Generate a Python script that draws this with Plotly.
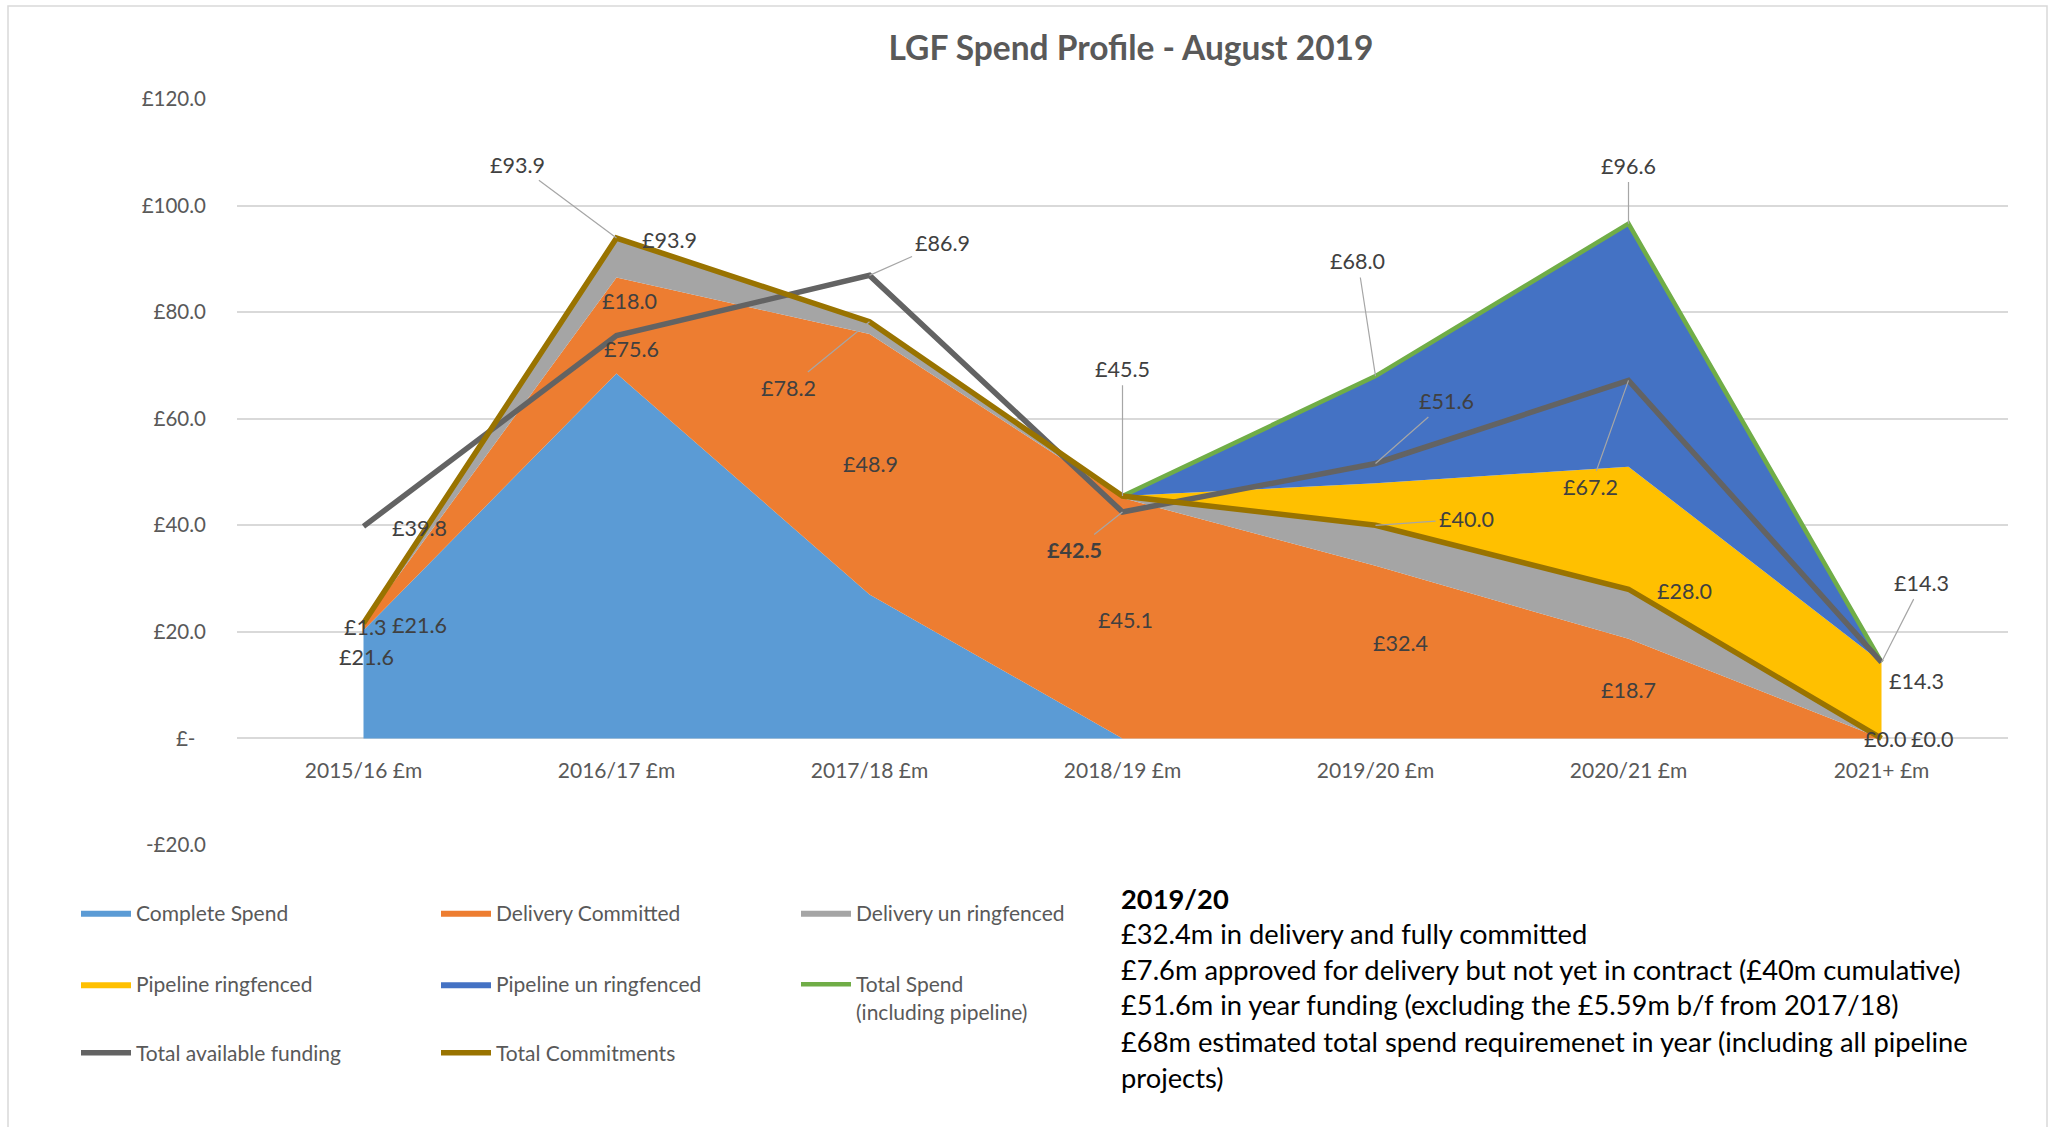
import plotly.graph_objects as go

# ---------------- data ----------------
categories = ["2015/16 £m", "2016/17 £m", "2017/18 £m", "2018/19 £m",
              "2019/20 £m", "2020/21 £m", "2021+ £m"]
complete_spend = [20.3, 68.5, 27.0, 0.0, 0.0, 0.0, 0.0]
delivery_committed = [1.3, 18.0, 48.9, 45.1, 32.4, 18.7, 0.0]
delivery_unringfenced = [0.0, 7.4, 2.3, 0.4, 7.6, 9.3, 0.0]
pipeline_ringfenced = [0.0, 0.0, 0.0, 0.0, 7.9, 23.0, 14.3]
pipeline_unringfenced = [0.0, 0.0, 0.0, 0.0, 20.1, 45.6, 0.0]
total_spend = [None, None, None, 45.5, 68.0, 96.6, 14.3]
total_funding = [39.8, 75.6, 86.9, 42.5, 51.6, 67.2, 14.3]
total_commitments = [21.6, 93.9, 78.2, 45.5, 40.0, 28.0, 0.0]

y_tickvals = [-20, 0, 20, 40, 60, 80, 100, 120]
y_ticktext = ["-£20.0", "£-\u00a0\u00a0", "£20.0", "£40.0", "£60.0", "£80.0", "£100.0", "£120.0"]

title_text = "LGF Spend Profile - August 2019"
note_lines = [
    "<b>2019/20</b>",
    "£32.4m in delivery and fully committed",
    "£7.6m approved for delivery but not yet in contract (£40m cumulative)",
    "£51.6m in year funding (excluding the £5.59m b/f from 2017/18)",
    "£68m estimated total spend requiremenet in year (including all pipeline",
    "projects)",
]

# ---------------- styling ----------------
FONT = "Lato"
LABEL_COLOR = "#404040"
AXIS_COLOR = "#595959"
GRID = "#D9D9D9"

xs = list(range(len(categories)))

fig = go.Figure()

areas = [
    ("Complete Spend", complete_spend, "#5B9BD5", "legend"),
    ("Delivery Committed", delivery_committed, "#ED7D31", "legend"),
    ("Delivery un ringfenced", delivery_unringfenced, "#A5A5A5", "legend"),
    ("Pipeline ringfenced", pipeline_ringfenced, "#FFC000", "legend2"),
    ("Pipeline un ringfenced", pipeline_unringfenced, "#4472C4", "legend2"),
]
for name, vals, col, lg in areas:
    fig.add_trace(go.Scatter(
        x=xs, y=vals, name=name, stackgroup="one", mode="lines",
        line=dict(width=0, color=col), fillcolor=col, legend=lg,
        hoverinfo="x+y+name",
    ))

lines = [
    ("Total Spend<br>(including pipeline)", total_spend, "#70AD47", 4.5, "legend2"),
    ("Total available funding", total_funding, "#636363", 5.5, "legend3"),
    ("Total Commitments", total_commitments, "#997300", 5.5, "legend3"),
]
for name, vals, col, w, lg in lines:
    fig.add_trace(go.Scatter(
        x=xs, y=vals, name=name, mode="lines", connectgaps=False,
        line=dict(width=w, color=col), legend=lg,
    ))

# ---------------- data labels ----------------
# (text, category index, value pointed to, label x, label y, leader line, bold)
labels = [
    ("£93.9", 1, total_commitments[1], 0.61, 107.7, True, False),
    ("£93.9", None, None, 1.21, 93.5, False, False),
    ("£18.0", None, None, 1.05, 82.0, False, False),
    ("£75.6", None, None, 1.06, 73.1, False, False),
    ("£39.8", None, None, 0.22, 39.5, False, False),
    ("£1.3", None, None, 0.005, 20.9, False, False),
    ("£21.6", None, None, 0.22, 21.3, False, False),
    ("£21.6", None, None, 0.01, 15.2, False, False),
    ("£86.9", 2, total_funding[2], 2.29, 93.0, True, False),
    ("£78.2", 2, total_commitments[2], 1.68, 65.8, True, False),
    ("£48.9", None, None, 2.005, 51.5, False, False),
    ("£45.5", 3, total_spend[3], 3.0, 69.4, True, False),
    ("£42.5", 3, total_funding[3], 2.81, 35.3, True, True),
    ("£45.1", None, None, 3.01, 22.3, False, False),
    ("£68.0", 4, total_spend[4], 3.93, 89.6, True, False),
    ("£51.6", 4, total_funding[4], 4.28, 63.3, True, False),
    ("£40.0", 4, total_commitments[4], 4.36, 41.2, True, False),
    ("£32.4", None, None, 4.10, 17.9, False, False),
    ("£96.6", 5, total_spend[5], 5.0, 107.5, True, False),
    ("£67.2", 5, total_funding[5], 4.85, 47.1, True, False),
    ("£28.0", None, None, 5.22, 27.7, False, False),
    ("£18.7", None, None, 5.0, 9.1, False, False),
    ("£14.3", 6, total_funding[6], 6.16, 29.2, True, False),
    ("£14.3", None, None, 6.14, 10.8, False, False),
    ("£0.0", None, None, 6.015, -0.2, False, False),
    ("£0.0", None, None, 6.2, -0.2, False, False),
]

annotations = []
for text, ci, val, lx, ly, leader, bold in labels:
    t = f"<b>{text}</b>" if bold else text
    f = dict(family=FONT, size=21.5, color=LABEL_COLOR)
    if leader:
        annotations.append(dict(
            x=ci, y=val, xref="x", yref="y", ax=lx, ay=ly, axref="x", ayref="y",
            text=t, showarrow=True, arrowhead=0, arrowwidth=1.2,
            arrowcolor="#A6A6A6", standoff=0, startstandoff=2, font=f,
        ))
    else:
        annotations.append(dict(
            x=lx, y=ly, xref="x", yref="y", text=t, showarrow=False, font=f,
        ))

# ---------------- geometry helpers (pixels -> paper) ----------------
W, H = 2051, 1127
ML, MR, MT, MB = 237, 43, 99, 282
PW, PH = W - ML - MR, H - MT - MB


def px(xp):
    return (xp - ML) / PW


def py(yp):
    return (H - MB - yp) / PH


# note text box
note_y = [898, 933, 969, 1005, 1041, 1077]
for line, yy in zip(note_lines, note_y):
    annotations.append(dict(
        x=px(1119), y=py(yy), xref="paper", yref="paper", xanchor="left",
        yanchor="middle", text=line, showarrow=False, align="left",
        font=dict(family=FONT, size=27.3, color="#000000"),
    ))

fig.update_layout(
    width=W, height=H,
    margin=dict(l=ML, r=MR, t=MT, b=MB),
    paper_bgcolor="white", plot_bgcolor="white",
    font=dict(family=FONT, color=AXIS_COLOR),
    title=dict(text=f"<b>{title_text}</b>", x=px(1131), xref="paper",
               y=1 - 48 / H, yref="container", xanchor="center", yanchor="middle",
               font=dict(family=FONT, size=33.5, color=AXIS_COLOR)),
    xaxis=dict(
        range=[-0.5, 6.5], tickmode="array", tickvals=xs, ticktext=categories,
        showgrid=False, zeroline=False, showline=False, ticks="",
        anchor="free", position=20 / 140, ticklabelstandoff=18,
        tickfont=dict(family=FONT, size=21, color=AXIS_COLOR),
    ),
    yaxis=dict(
        range=[-20, 120], tickmode="array", tickvals=y_tickvals, ticktext=y_ticktext,
        showgrid=True, gridcolor=GRID, gridwidth=1.5, zeroline=False,
        showline=False, ticks="", ticklabelstandoff=30,
        tickfont=dict(family=FONT, size=20.5, color=AXIS_COLOR),
    ),
    annotations=annotations,
    shapes=[dict(type="rect", xref="paper", yref="paper",
                 x0=px(8), x1=px(2047), y0=py(1135), y1=py(6),
                 line=dict(color="#D9D9D9", width=1.5), fillcolor="rgba(0,0,0,0)",
                 layer="below")],
    showlegend=True,
    hovermode="x",
)

leg_common = dict(orientation="h", xanchor="left", yanchor="middle",
                  entrywidthmode="pixels", entrywidth=295, itemwidth=50,
                  bgcolor="rgba(0,0,0,0)", borderwidth=0,
                  font=dict(family=FONT, size=21, color=AXIS_COLOR),
                  traceorder="normal", itemclick=False, itemdoubleclick=False)
fig.update_layout(
    legend=dict(x=px(76), y=py(913), **leg_common),
    legend2=dict(x=px(76), y=py(998), valign="top", **leg_common),
    legend3=dict(x=px(76), y=py(1053), **leg_common),
)

fig.write_html("out.html", post_script="document.body.style.margin='0';",
               config={"displayModeBar": False})
